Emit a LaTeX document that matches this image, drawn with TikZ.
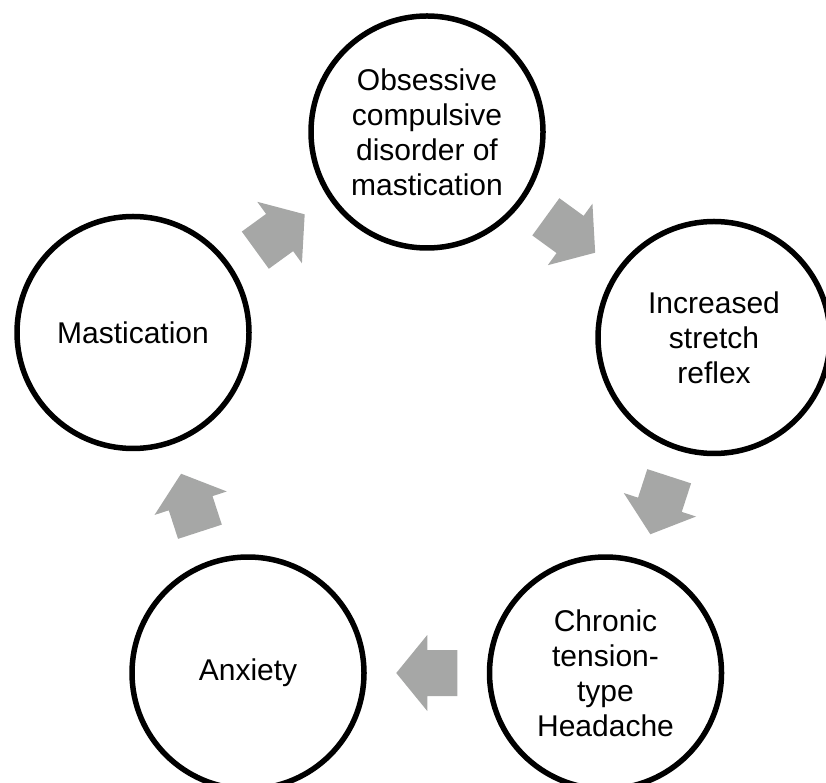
\documentclass[tikz,border=0pt]{standalone}
\usepackage{fontspec}
\setmainfont{Liberation Sans}
\usetikzlibrary{calc}
\definecolor{arrowgray}{RGB}{166,167,166}

\begin{document}
\begin{tikzpicture}[x=1pt, y=1pt,
  stage/.style={circle, draw, line width=5.5pt, minimum size=232pt, inner sep=0pt,
    align=center, font=\fontsize{30}{35}\selectfont},
  turn/.style={fill=arrowgray}]
\path[use as bounding box, clip] (0,0) rectangle (826,782);
% the five stages of the cycle
\node[stage] (ocd) at (427,650) {Obsessive\\compulsive\\disorder of\\mastication};
\node[stage] (stretch) at (714,444.5) {Increased\\stretch\\reflex};
\node[stage] (headache) at (605.5,109) {Chronic\\tension-\\type\\Headache};
\node[stage] (anxiety) at (248,109) {Anxiety};
\node[stage] (mast) at (133,449.5) {Mastication};
% block arrows halfway between the stages
\foreach \from/\to/\ang in {mast/ocd/36, ocd/stretch/-36, stretch/headache/-108,
  headache/anxiety/180, anxiety/mast/108}
  \fill[turn, shift={($(\from)!0.5!(\to)$)}, rotate=\ang]
    (-30.5,-23) -- (-0.5,-23) -- (-0.5,-38) -- (30.5,0) -- (-0.5,38) -- (-0.5,23)
    -- (-30.5,23) -- cycle;
\end{tikzpicture}
\end{document}
